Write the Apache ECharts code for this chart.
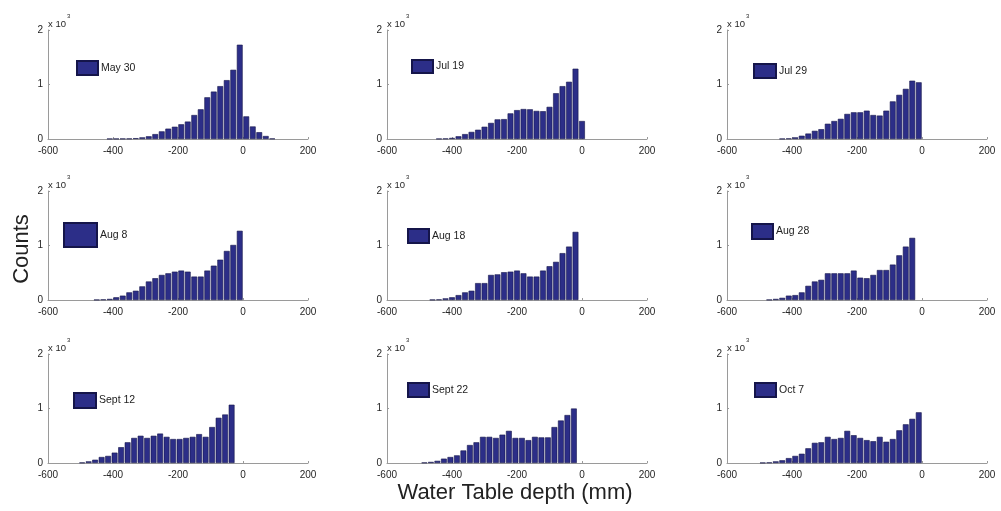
<!DOCTYPE html>
<html>
<head>
<meta charset="utf-8">
<script src="https://cdn.jsdelivr.net/npm/echarts@6/dist/echarts.min.js"></script>
<style>
  html, body { margin: 0; padding: 0; background: #ffffff; }
  #chart { width: 1001px; height: 511px; }
</style>
</head>
<body>
<div id="chart"></div>
<script>
// Histograms of water table depth (mm), 20 mm bins, one panel per survey date.
const dates = ['May 30', 'Jul 19', 'Jul 29', 'Aug 8', 'Aug 18', 'Aug 28', 'Sept 12', 'Sept 22', 'Oct 7'];

const binsMay30 = [-410, -390, -370, -350, -330, -310, -290, -270, -250, -230, -210, -190, -170, -150, -130, -110, -90, -70, -50, -30, -10, 10, 30, 50, 70, 90];
const countsMay30 = [4, 5, 6, 8, 15, 30, 50, 90, 140, 190, 225, 270, 320, 440, 545, 765, 870, 970, 1080, 1270, 1730, 415, 230, 125, 55, 8];

const binsJul19 = [-440, -420, -400, -380, -360, -340, -320, -300, -280, -260, -240, -220, -200, -180, -160, -140, -120, -100, -80, -60, -40, -20, 0];
const countsJul19 = [4, 8, 20, 50, 90, 130, 170, 225, 295, 360, 365, 470, 530, 550, 545, 515, 510, 590, 840, 970, 1050, 1290, 330];

const binsJul29 = [-430, -410, -390, -370, -350, -330, -310, -290, -270, -250, -230, -210, -190, -170, -150, -130, -110, -90, -70, -50, -30, -10];
const countsJul29 = [4, 10, 30, 60, 100, 150, 180, 280, 330, 370, 460, 490, 490, 520, 440, 430, 520, 690, 810, 920, 1070, 1040];

const binsAug8 = [-450, -430, -410, -390, -370, -350, -330, -310, -290, -270, -250, -230, -210, -190, -170, -150, -130, -110, -90, -70, -50, -30, -10];
const countsAug8 = [4, 10, 20, 50, 80, 140, 170, 250, 340, 400, 460, 490, 520, 540, 520, 430, 430, 540, 630, 740, 900, 1010, 1270];

const binsAug18 = [-460, -440, -420, -400, -380, -360, -340, -320, -300, -280, -260, -240, -220, -200, -180, -160, -140, -120, -100, -80, -60, -40, -20];
const countsAug18 = [5, 10, 30, 50, 90, 140, 170, 310, 310, 460, 470, 510, 520, 540, 490, 430, 430, 540, 620, 700, 860, 980, 1250];

const binsAug28 = [-470, -450, -430, -410, -390, -370, -350, -330, -310, -290, -270, -250, -230, -210, -190, -170, -150, -130, -110, -90, -70, -50, -30];
const countsAug28 = [5, 20, 40, 80, 90, 140, 260, 340, 370, 490, 490, 490, 490, 540, 410, 400, 460, 550, 550, 650, 820, 980, 1140];

const binsSep12 = [-495, -475, -455, -435, -415, -395, -375, -355, -335, -315, -295, -275, -255, -235, -215, -195, -175, -155, -135, -115, -95, -75, -55, -35];
const countsSep12 = [8, 30, 60, 110, 130, 190, 290, 380, 460, 500, 460, 500, 540, 480, 440, 440, 460, 480, 530, 480, 660, 830, 890, 1070];

const binsSep22 = [-485, -465, -445, -425, -405, -385, -365, -345, -325, -305, -285, -265, -245, -225, -205, -185, -165, -145, -125, -105, -85, -65, -45, -25];
const countsSep22 = [8, 20, 40, 80, 110, 140, 230, 330, 380, 480, 480, 460, 520, 590, 460, 460, 420, 480, 470, 470, 660, 780, 880, 1000];

const binsOct7 = [-490, -470, -450, -430, -410, -390, -370, -350, -330, -310, -290, -270, -250, -230, -210, -190, -170, -150, -130, -110, -90, -70, -50, -30, -10];
const countsOct7 = [5, 10, 30, 50, 90, 130, 170, 270, 370, 380, 480, 440, 460, 590, 510, 460, 420, 400, 480, 390, 440, 600, 710, 810, 930];

const depthTicks = { min: -600, max: 200, step: 200 };
const countTicks = { min: 0, max: 2000, step: 1000, scale: 1000 };

const panelBins = [binsMay30, binsJul19, binsJul29, binsAug8, binsAug18, binsAug28, binsSep12, binsSep22, binsOct7];
const panelCounts = [countsMay30, countsJul19, countsJul29, countsAug8, countsAug18, countsAug28, countsSep12, countsSep22, countsOct7];

// ---- layout ----
const FONT = '"Liberation Sans", Arial, Helvetica, sans-serif';
const colLeft = [48, 387, 727];
const rowTop = [30, 191, 354];
const gridW = 260, gridH = 109;
const barFill = '#2c2e88';
const barEdge = '#15154a';
const axisGray = '#9a9a9a';
const labelColor = '#262626';

// legend box placement per panel [left, top, width, height]
const legendBoxes = [
  [76, 60, 21, 14], [411, 59, 21, 13], [753, 63, 22, 14],
  [63, 222, 33, 24], [407, 228, 21, 14], [751, 223, 21, 15],
  [73, 392, 22, 15], [407, 382, 21, 14], [754, 382, 21, 14]
];

const grids = [], xAxes = [], yAxes = [], series = [], legends = [];

dates.forEach((name, i) => {
  const r = Math.floor(i / 3), c = i % 3;
  grids.push({ left: colLeft[c], top: rowTop[r], width: gridW, height: gridH, containLabel: false });

  xAxes.push({
    type: 'value', gridIndex: i,
    min: depthTicks.min, max: depthTicks.max, interval: depthTicks.step,
    axisLine: { show: true, onZero: false, lineStyle: { color: axisGray, width: 1 } },
    axisTick: { show: true, inside: true, length: 2, lineStyle: { color: axisGray } },
    axisLabel: { show: true, fontSize: 10, color: labelColor, fontFamily: FONT, margin: 7 },
    splitLine: { show: false }
  });

  yAxes.push({
    type: 'value', gridIndex: i,
    min: countTicks.min, max: countTicks.max, interval: countTicks.step,
    axisLine: { show: true, onZero: false, lineStyle: { color: axisGray, width: 1 } },
    axisTick: { show: true, inside: true, length: 2, lineStyle: { color: axisGray } },
    axisLabel: {
      show: true, fontSize: 10, color: labelColor, fontFamily: FONT, margin: 5,
      formatter: v => String(v / countTicks.scale)
    },
    splitLine: { show: false },
    name: '{a|x 10}{s|3}',
    nameLocation: 'end',
    nameGap: 1,
    nameTextStyle: {
      align: 'left', verticalAlign: 'bottom', color: labelColor, fontFamily: FONT, fontSize: 9,
      rich: {
        a: { fontSize: 9.5, lineHeight: 10, verticalAlign: 'bottom', color: labelColor, fontFamily: FONT },
        s: { fontSize: 6, lineHeight: 7, padding: [0, 0, 10, 1], verticalAlign: 'bottom', color: labelColor, fontFamily: FONT }
      }
    }
  });

  series.push({
    name: name,
    type: 'bar',
    xAxisIndex: i, yAxisIndex: i,
    data: panelBins[i].map((b, k) => [b, panelCounts[i][k]]),
    barWidth: 5.8,
    itemStyle: { color: barFill, borderColor: barEdge, borderWidth: 0.6 },
    emphasis: { disabled: true },
    animation: false
  });

  const lb = legendBoxes[i];
  legends.push({
    data: [name],
    left: lb[0], top: lb[1],
    itemWidth: lb[2], itemHeight: lb[3],
    icon: 'rect', padding: 0, itemGap: 0,
    selectedMode: false,
    textStyle: { fontSize: 10.5, color: '#222222', fontFamily: FONT, padding: [0, 0, 0, -2] }
  });
});

const chart = echarts.init(document.getElementById('chart'), null, { renderer: 'canvas' });
chart.setOption({
  backgroundColor: '#ffffff',
  animation: false,
  grid: grids,
  xAxis: xAxes,
  yAxis: yAxes,
  legend: legends,
  series: series,
  graphic: [
    {
      type: 'text', x: 22, y: 249, rotation: Math.PI / 2,
      style: { text: 'Counts', font: '22px ' + FONT, fill: '#222222', align: 'center', verticalAlign: 'middle' }
    },
    {
      type: 'text', x: 515, y: 493,
      style: { text: 'Water Table depth (mm)', font: '22px ' + FONT, fill: '#222222', align: 'center', verticalAlign: 'middle' }
    }
  ]
});
</script>
</body>
</html>
